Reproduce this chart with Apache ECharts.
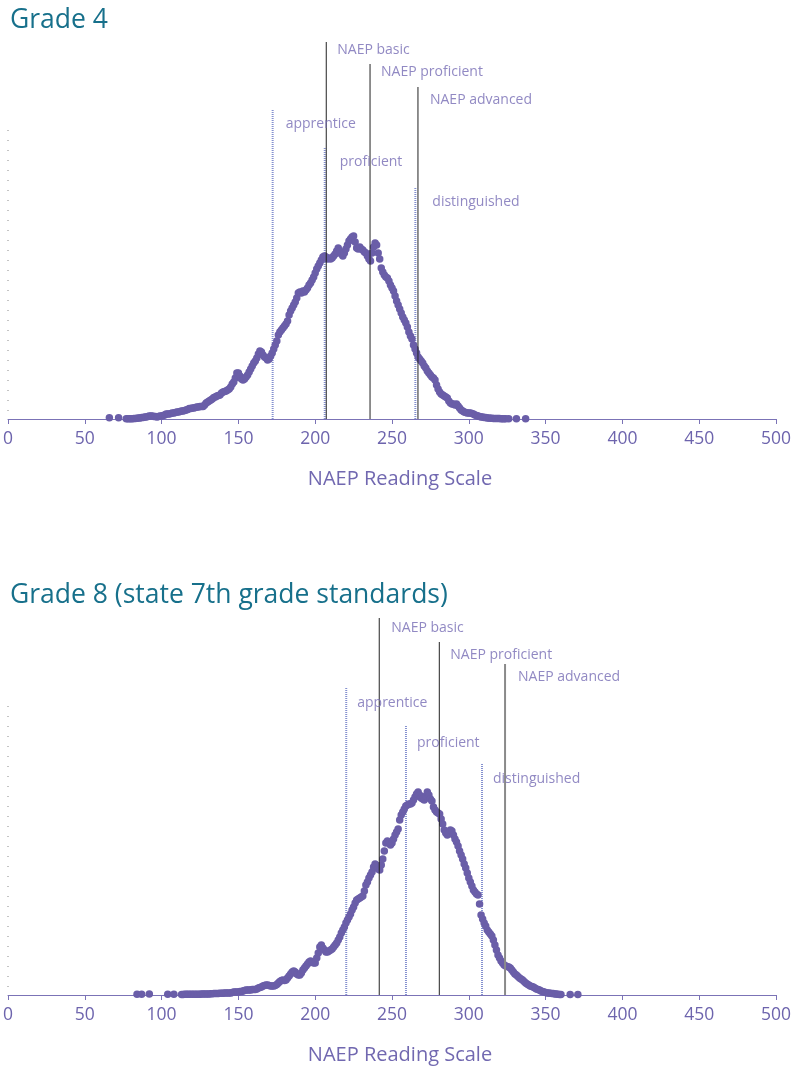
<!DOCTYPE html>
<html><head><meta charset="utf-8">
<script src="https://cdn.jsdelivr.net/npm/echarts@6/dist/echarts.min.js"></script>
<style>html,body{margin:0;padding:0;background:#fff}#c{width:794px;height:1069px}</style>
</head><body><div id="c"></div><script>
// ---------- DATA ----------
const xTickValues = [0, 50, 100, 150, 200, 250, 300, 350, 400, 450, 500];
const titles = ['Grade 4', 'Grade 8 (state 7th grade standards)'];
const axisTitle = 'NAEP Reading Scale';

// Grade 4: NAEP reading scale score vs relative frequency (arbitrary units)
const g4SparseScores = [66, 72, 326, 331, 337];
const g4SparseFreq   = [1.3, 1.3, 0.3, 0.3, 0.3];
const g4FirstScore = 77; // consecutive scores 77..324
const g4Freq = [
  0.3,0.3,0.2,0.3,0.3,0.5,0.5,0.8,1,1,
  1.5,1.5,2,2,2.5,3,3,3,2.5,2.5,
  2,2.5,3,3,3.5,4,5,5,5,5.5,
  6,6,6.5,7,7,7.5,8,8,8.5,9,
  9.5,10.5,10.5,11,11,11.5,12,12,12.5,12.5,
  12.5,14,16,17,18,19,20,21.5,22,23,
  23.5,24,26,27,27.5,28,29,30,32,35,
  37,41,46,46,43,40,39,40,42,44,
  47,50,53,56,58,61,65,68,67,64,
  62,61,59,60,63,66,70,74,78,84,
  87,89,91,93,95,98,104,108,111,114,
  117,121,126,127,126,128,127,129,131,134,
  136,139,142,146,150,153,156,159,162,163,
  162,160,161,160,161,163,165,168,171,168,
  165,163,166,170,174,178,180,182,183,177,
  171,170,172,170,169,167,166,163,160,158,
  166,172,176,174,166,160,151,147,144,142,
  141,138,134,131,128,123,118,114,110,106,
  102,99,96,92,87,83,80,74,70,66,
  62,60,58,56,53,51,48,46,44,42,
  41,39,34,30,27,25,24,23,22,21,
  18,16,15,15,14,15,13,11,9,8,
  7,6.5,6,6,6,5.5,5,4,3.5,3,
  2.5,2,2,1.5,1.5,1,1,0.8,0.7,0.6,
  0.5,0.5,0.4,0.4,0.3,0.3,0.3,0.3
];

// Grade 8
const g8SparseScores = [84, 87, 92, 104, 108, 366, 371];
const g8SparseFreq   = [0.7, 0.7, 1, 0.7, 0.7, 0.5, 0.5];
const g8FirstScore = 113; // consecutive scores 113..360
const g8Freq = [
  0.5,0.6,0.7,0.7,0.7,0.7,0.7,0.7,0.7,0.7,
  0.7,0.8,0.8,0.9,1,1,1,1,1,1.2,
  1.2,1.5,1.5,1.5,1.5,1.7,1.7,1.7,2,2,
  2,2,2,2.5,3,3,3,3,3.5,3.5,
  4,4.5,5,5,5,5,5.5,5.5,5.5,6,
  7,7.5,8,9,9.5,10,10,9.5,9,9,
  9,9.5,10.5,12,13.5,14.5,15,14.5,15,17,
  19,21,23,24,23,21,20,20,22,25,
  27,29,31,33,34,33,32,32,37,42,
  48,50,47,45,43,43,44,45,46,48,
  50,52,55,58,62,65,68,72,75,78,
  81,85,88,92,95,96,97,98,99,104,
  110,113,117,120,123,128,131,129,126,125,
  130,136,144,152,154,152,150,152,156,160,
  163,166,175,180,183,186,189,190,191,191,
  192,195,198,201,203,200,197,196,195,199,
  203,200,196,194,188,185,183,182,181,176,
  171,165,162,160,162,165,164,160,156,153,
  149,144,140,136,131,127,122,117,113,109,
  105,103,101,100,91,80,76,72,69,65,
  63,61,59,55,50,45,40,37,34,32,
  30,29,28.5,28,27,25,23,21,20,18.5,
  17,16,15,13.5,12,11,10,9,8.5,8,
  7,6,5.5,5,4,3.5,3,2.5,2,2,
  1.7,1.5,1.5,1,1,0.7,0.5,0.5
];

// Cut scores
const stateCutNames = ['apprentice', 'proficient', 'distinguished'];
const naepCutNames  = ['NAEP basic', 'NAEP proficient', 'NAEP advanced'];
const g4StateCuts = [172.3, 206.2, 265.2];
const g4NaepCuts  = [207.2, 235.7, 266.9];
const g8StateCuts = [220.2, 259.1, 308.6];
const g8NaepCuts  = [241.7, 280.8, 323.6];

// ---------- LAYOUT (line heights / label heights in y-axis units) ----------
const layout = {
  g4: { stateTop: [310, 272, 232], stateLab: [295, 257, 217], naepTop: [377, 355, 332], naepLab: [369, 347, 319],
        stateDx: [13, 15, 17], naepDx: [11, 11, 12] },
  g8: { stateTop: [307, 269, 231], stateLab: [292, 252, 216], naepTop: [377, 353, 331], naepLab: [367, 340, 318],
        stateDx: [11, 11, 11], naepDx: [12, 11, 13] }
};
const AXIS_TOP = 289;

// ---------- BUILD ----------
const FONT = '"Open Sans", "Noto Sans", sans-serif';
const DOT = '#6a5ea8';
const TXT = '#756cb4';
const AX = '#7b73b6';

function pts(first, arr, sx, sy) {
  const out = arr.map((v, i) => [first + i, v]);
  sx.forEach((s, i) => out.push([s, sy[i]]));
  out.sort((a, b) => a[0] - b[0]);
  return out;
}

function xAxis(gi) {
  return {
    gridIndex: gi, type: 'value', min: 0, max: 500, interval: 50,
    axisLine: { lineStyle: { color: AX, width: 1 } },
    axisTick: { length: 5, lineStyle: { color: AX } },
    axisLabel: { color: '#6d64ad', fontSize: 17.5, fontFamily: FONT, margin: 11,
      formatter: v => xTickValues.includes(v) ? String(v) : '' },
    splitLine: { show: false },
    name: axisTitle, nameLocation: 'middle', nameGap: 50,
    nameTextStyle: { color: '#7168b0', fontSize: 20, fontFamily: FONT, padding: [0, 0, 0, 16] }
  };
}
function yAxis(gi) {
  return { gridIndex: gi, type: 'value', min: 0, max: 380, show: false };
}

const series = [];
function addPanel(gi, first, freq, sx, sy, stateCuts, naepCuts, L, advStyle) {
  // dotted left axis line
  series.push({ type: 'line', xAxisIndex: gi, yAxisIndex: gi, data: [[0, AXIS_TOP], [0, 0]],
    symbol: 'none', silent: true, lineStyle: { color: '#8a8a8a', width: 1, type: [1, 9] }, z: 1 });
  // state standard cut lines (dotted)
  stateCuts.forEach((c, i) => {
    series.push({ type: 'line', xAxisIndex: gi, yAxisIndex: gi, data: [[c, 0], [c, L.stateTop[i]]],
      symbol: 'none', silent: true, lineStyle: { color: '#8490cf', width: 2, type: [1, 1] }, z: 2 });
  });
  // scatter
  series.push({ type: 'scatter', xAxisIndex: gi, yAxisIndex: gi, data: pts(first, freq, sx, sy),
    symbolSize: 7.5, itemStyle: { color: DOT, opacity: 1 }, z: 3 });
  // NAEP cut lines (solid)
  naepCuts.forEach((c, i) => {
    const st = (i === 2 && advStyle) ? advStyle : { color: '#222', width: 1 };
    series.push({ type: 'line', xAxisIndex: gi, yAxisIndex: gi, data: [[c, 0], [c, L.naepTop[i]]],
      symbol: 'none', silent: true, lineStyle: st, z: 4 });
  });
  // labels
  const labData = [];
  stateCuts.forEach((c, i) => labData.push({ value: [c, L.stateLab[i]], name: stateCutNames[i],
    label: { offset: [L.stateDx[i] - 5, 0] } }));
  naepCuts.forEach((c, i) => labData.push({ value: [c, L.naepLab[i]], name: naepCutNames[i],
    label: { offset: [L.naepDx[i] - 5, 0] } }));
  series.push({ type: 'scatter', xAxisIndex: gi, yAxisIndex: gi, data: labData, symbolSize: 0, silent: true, z: 5,
    label: { show: true, position: 'right', distance: 5, formatter: p => p.name,
      color: TXT, fontSize: 14, fontFamily: FONT } });
}

addPanel(0, g4FirstScore, g4Freq, g4SparseScores, g4SparseFreq, g4StateCuts, g4NaepCuts, layout.g4, null);
addPanel(1, g8FirstScore, g8Freq, g8SparseScores, g8SparseFreq, g8StateCuts, g8NaepCuts, layout.g8, { color: '#8a8a8a', width: 2 });

const chart = echarts.init(document.getElementById('c'), null, { renderer: 'canvas', width: 794, height: 1069 });
chart.setOption({
  animation: false,
  backgroundColor: '#fff',
  title: [
    { text: titles[0], left: 5, top: 2, textStyle: { color: '#17708b', fontSize: 26.5, fontWeight: 'normal', fontFamily: FONT } },
    { text: titles[1], left: 5, top: 577, textStyle: { color: '#17708b', fontSize: 26.5, fontWeight: 'normal', fontFamily: FONT } }
  ],
  grid: [
    { left: 8, width: 768, top: 39, height: 380 },
    { left: 8, width: 768, top: 615, height: 380 }
  ],
  xAxis: [xAxis(0), xAxis(1)],
  yAxis: [yAxis(0), yAxis(1)],
  series: series
});
</script></body></html>
